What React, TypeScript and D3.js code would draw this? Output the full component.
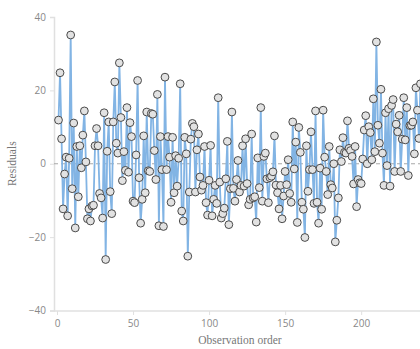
import React, { useEffect, useRef } from "react";
import * as d3 from "d3";

// residuals, in observation order (split in three runs)
const residualsA = [
  11.9, 24.8, 6.8, -12.3, -2.8, 1.8, -14.2, 1.5, 35.1, -6.8, 11.1, -17.5, 4.7, -9.0, 4.9, -1.1,
  7.8, 14.4, 0.5, -15.0, -12.3, -15.6, -11.5, -11.3, 4.9, 9.6, 4.9, -8.1, -9.3, -14.8, 13.9,
  -26.1, 3.4, 11.4, -7.6, -13.6, 11.4, 22.3, 5.6, 2.9, 27.5, 12.6, -4.6, 3.3, -1.8, 15.3, -2.3,
  11.2, 7.4, -10.2, -10.6, 2.4, 22.7, -3.8, -16.2, -9.7, 7.6, -7.9, 14.1, -1.9, -2.1, 13.7,
  13.5, 3.6, -4.3, 18.9, -16.9, 7.4, -1.6, -17.1, 23.6, -1.6, 7.4, 1.8, -10.5, 7.2, -7.9, 2.2
];
const residualsB = [
  -6.1, 1.5, 21.8, -12.9, -15.6, 7.2, 2.7, -25.2, -7.7, 6.7, 11.0, 10.1, -7.7, 3.8, 8.1, -3.6,
  -7.2, -5.9, 4.7, -10.6, -14.0, -4.5, 5.0, -14.2, -9.7, -5.9, -10.8, 18.0, -5.0, -14.8, -13.6,
  -12.1, -4.1, 6.1, -16.6, -6.8, 14.1, -6.7, -10.2, -4.3, 0.9, -7.7, -5.9, 4.9, -6.1, 6.8, -5.4,
  -11.2, -9.7, 8.1, -9.3, -9.0, -15.9, 1.6, -6.5, 15.3, -10.2, 2.0, 2.9, -4.1, -10.6, -3.8,
  -3.4, -2.2, 7.6, -5.8, -7.9, -12.3, -5.9, -15.0, -8.8, -2.1, -5.7, 1.1, -8.1, -10.5, 11.4,
  -1.4, 5.9, -16.0, 9.9, 3.1, -10.5
];
const residualsC = [
  -12.4, -20.1, 4.9, -7.5, -1.6, 8.7, -1.6, -10.8, 14.4, -10.5, -16.2, -1.2, -12.4, 14.6, 1.8,
  -2.1, -8.4, 4.7, -5.7, -6.6, 0, -21.3, -15.4, -9.3, 3.8, 0.6, 7.1, 3.1, 2.9, 11.7, 4.2, 3.6,
  2.0, -5.5, 4.7, -11.7, -4.3, -5.2, -5.4, 1.3, 9.2, 13.1, 0, 10.1, 8.5, 1.1, 17.7, 3.3, 33.2,
  10.5, 5.6, 20.3, 2.9, -5.9, 13.9, -0.5, 15.0, -6.1, 15.9, 17.5, -2.1, 10.8, 8.7, 13.2, -2.1,
  6.7, 18.0, 6.5, 15.3, -3.2, 10.4, 10.5, 11.4, 2.7, 20.7, 14.6, 6.9, 21.8
];
const xTicks = [0, 50, 100, 150, 200];
const yTicks = [-40, -20, 0, 20, 40];

const residuals = [...residualsA, ...residualsB, ...residualsC];

export default function App() {
  const ref = useRef<SVGSVGElement>(null);

  useEffect(() => {
    const svg = d3.select(ref.current);
    svg.selectAll("*").remove();

    const x = d3.scaleLinear().domain([0, 240]).range([57, 422]);
    const y = d3.scaleLinear().domain([-40, 40]).range([310.5, 17]);
    const data = residuals.map((v, i) => ({ obs: i + 1, v }));

    const tickFont = "'Open Sans', sans-serif";
    const titleFont = "'Liberation Serif', serif";

    // y axis
    const yAxis = svg.append("g").attr("transform", "translate(54,0)");
    yAxis.call(d3.axisLeft(y).tickValues(yTicks).tickSize(4).tickPadding(4));
    yAxis.select(".domain").attr("stroke", "#e0e0e0").attr("stroke-width", 1.5);
    yAxis.selectAll(".tick line").attr("stroke", "#e0e0e0");
    yAxis.selectAll(".tick text").attr("fill", "#888").style("font", `10px ${tickFont}`);

    // x axis
    const xAxis = svg.append("g").attr("transform", "translate(0,311)");
    xAxis.call(d3.axisBottom(x).tickValues(xTicks).tickSize(4).tickPadding(5).tickSizeOuter(0));
    xAxis.select(".domain").attr("stroke", "#e0e0e0").attr("stroke-width", 1.5)
      .attr("d", "M54,0H425");
    xAxis.selectAll(".tick line").attr("stroke", "#e0e0e0");
    xAxis.selectAll(".tick text").attr("fill", "#888").style("font", `10px ${tickFont}`);

    // zero reference line
    svg.append("line")
      .attr("x1", 54).attr("x2", 425)
      .attr("y1", y(0)).attr("y2", y(0))
      .attr("stroke", "#a8a8a8")
      .attr("stroke-dasharray", "4,3")
      .attr("stroke-width", 1);

    const line = d3.line<{ obs: number; v: number }>()
      .x(d => x(d.obs))
      .y(d => y(d.v));

    svg.append("path")
      .datum(data)
      .attr("d", line)
      .attr("fill", "none")
      .attr("stroke", "#82b4e4")
      .attr("stroke-width", 1.8);

    svg.append("g")
      .selectAll("circle")
      .data(data)
      .enter()
      .append("circle")
      .attr("cx", d => x(d.obs))
      .attr("cy", d => y(d.v))
      .attr("r", 3.9)
      .attr("fill", "#e2e2e2")
      .attr("stroke", "#4a4a4a")
      .attr("stroke-width", 1);

    svg.append("text")
      .attr("x", 240)
      .attr("y", 344)
      .attr("text-anchor", "middle")
      .attr("fill", "#777")
      .style("font", `11.5px ${titleFont}`)
      .text("Observation order");

    svg.append("text")
      .attr("transform", `translate(16,${y(0)}) rotate(-90)`)
      .attr("text-anchor", "middle")
      .attr("fill", "#777")
      .style("font", `11.5px ${titleFont}`)
      .text("Residuals");
  }, []);

  return (
    <svg
      ref={ref}
      width={420}
      height={349}
      style={{ position: "absolute", left: 0, top: 0, background: "#fff" }}
    />
  );
}
